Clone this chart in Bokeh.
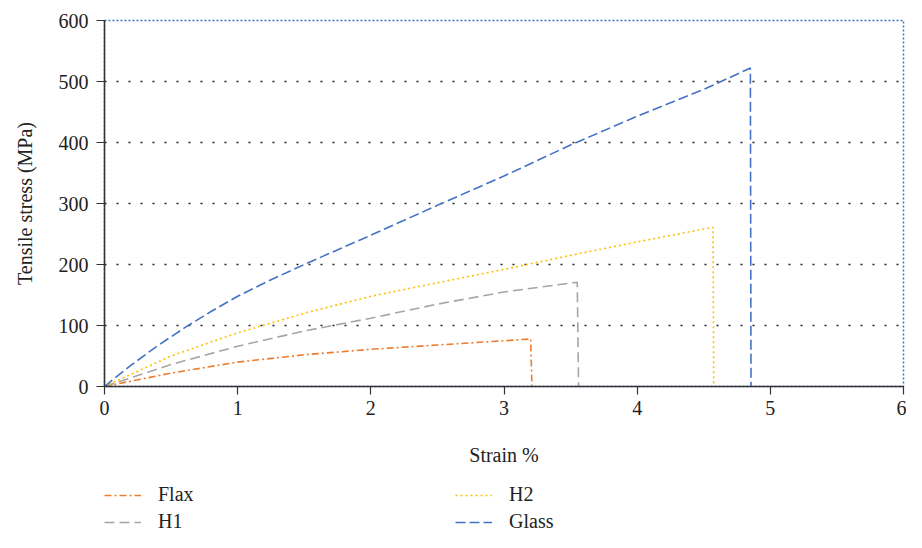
from bokeh.plotting import figure
from bokeh.layouts import column
from bokeh.models import Legend, LegendItem, Range1d, FixedTicker
from bokeh.embed import file_html
from bokeh.resources import INLINE

# Data
flax_strain = [0, 0.5, 1, 1.5, 2, 2.5, 3, 3.2, 3.21]
flax_stress = [0, 22, 40, 52, 61, 68, 75, 78, 0]
h1_strain = [0, 0.5, 1, 1.5, 2, 2.5, 3, 3.55, 3.56]
h1_stress = [0, 36, 66, 91, 112, 135, 155, 171, 0]
h2_strain = [0, 0.5, 1, 1.5, 2, 2.5, 3, 3.5, 4, 4.57, 4.575]
h2_stress = [0, 50, 88, 120, 148, 170, 192, 215, 237, 261, 0]
glass_strain = [0, 0.2, 0.4, 0.6, 0.8, 1, 1.25, 1.5, 2, 2.5, 3, 3.5, 4, 4.5, 4.85, 4.855]
glass_stress = [0, 35, 67, 96, 123, 148, 175, 200, 248, 297, 345, 396, 443, 487, 522, 0]

x_ticks = [0, 1, 2, 3, 4, 5, 6]
y_ticks = [0, 100, 200, 300, 400, 500, 600]

FONT = "Liberation Serif"

series = [
    ("Flax", flax_strain, flax_stress, "#ED7D31", "7 3 2 3"),
    ("H1", h1_strain, h1_stress, "#A5A5A5", "10 5"),
    ("H2", h2_strain, h2_stress, "#FFC000", "2 3"),
    ("Glass", glass_strain, glass_stress, "#4472C4", "10 4"),
]

# ---- main chart ----
p = figure(width=906, height=468, output_backend="svg", toolbar_location=None,
           x_range=Range1d(0, 6), y_range=Range1d(0, 600),
           min_border_left=104, min_border_right=3, min_border_top=20, min_border_bottom=0)

for name, xs, ys, col, dash in series:
    p.line(xs, ys, line_color=col, line_width=1.6, line_dash=dash)

p.outline_line_color = "#4472C4"
p.outline_line_dash = "2 2"
p.outline_line_width = 1.5

p.xgrid.visible = False
p.ygrid.ticker = FixedTicker(ticks=y_ticks)
p.ygrid.grid_line_color = "#222222"
p.ygrid.grid_line_dash = "2 10"
p.ygrid.grid_line_width = 1.5

p.xaxis.ticker = FixedTicker(ticks=x_ticks)
p.yaxis.ticker = FixedTicker(ticks=y_ticks)
for ax in (p.xaxis[0], p.yaxis[0]):
    ax.axis_line_color = "#333333"
    ax.axis_line_width = 1.5
    ax.major_tick_line_color = "#333333"
    ax.major_tick_line_width = 1.2
    ax.major_tick_out = 8
    ax.major_tick_in = 0
    ax.minor_tick_line_color = None
    ax.major_label_text_font = FONT
    ax.major_label_text_font_size = "20px"
    ax.major_label_text_color = "#222222"
    ax.axis_label_text_font = FONT
    ax.axis_label_text_font_size = "20px"
    ax.axis_label_text_font_style = "normal"
    ax.axis_label_text_color = "#222222"

p.xaxis.axis_label = "Strain %"
p.yaxis.axis_label = "Tensile stress (MPa)"
p.xaxis.major_label_standoff = 6
p.xaxis.axis_label_standoff = 26
p.yaxis.major_label_standoff = 8
p.yaxis.axis_label_standoff = 20

# ---- legend strip (same series, data outside its view) ----
q = figure(width=906, height=64, output_backend="svg", toolbar_location=None,
           x_range=Range1d(100, 101), y_range=Range1d(100, 101),
           x_axis_type=None, y_axis_type=None,
           min_border_left=104, min_border_right=0, min_border_top=15, min_border_bottom=0)
q.outline_line_color = None
q.grid.visible = False
items = {}
for name, xs, ys, col, dash in series:
    r = q.line(xs, ys, line_color=col, line_width=1.6, line_dash=dash)
    items[name] = LegendItem(label=name, renderers=[r])

legend = Legend(items=[items["Flax"], items["H2"], items["H1"], items["Glass"]],
                ncols=2, orientation="horizontal", location="top_left",
                glyph_width=37, glyph_height=22, label_standoff=17,
                label_width=293, spacing=4, padding=0, margin=0,
                border_line_color=None, background_fill_alpha=0,
                label_text_font=FONT, label_text_font_size="20px",
                label_text_color="#222222")
q.add_layout(legend, "center")

layout = column(p, q, spacing=0)
open("out.html", "w").write(file_html(layout, INLINE))
